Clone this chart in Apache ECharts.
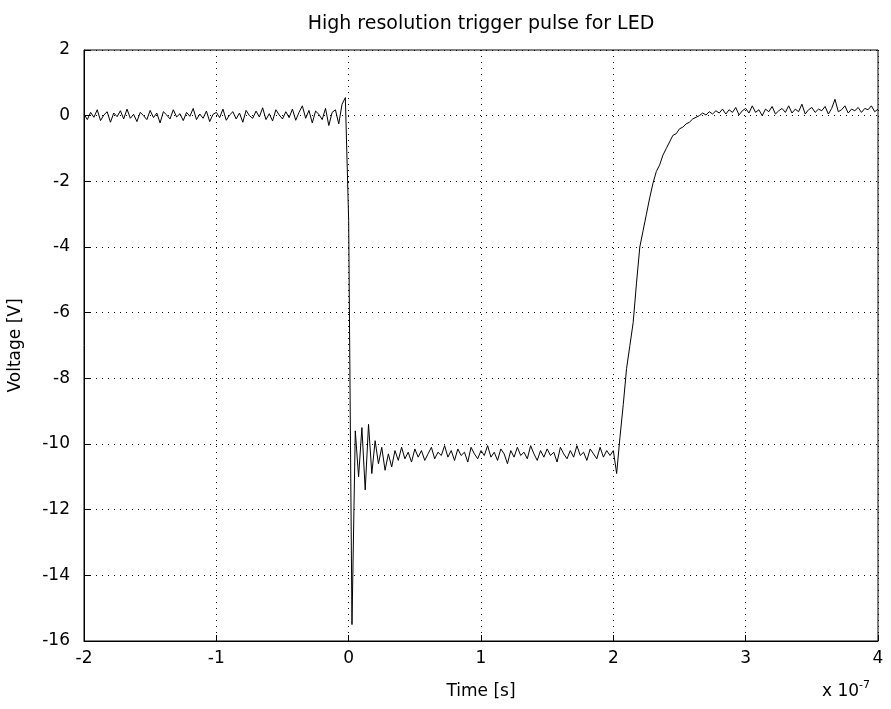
<!DOCTYPE html>
<html>
<head>
<meta charset="utf-8">
<script src="https://cdn.jsdelivr.net/npm/echarts@6/dist/echarts.min.js"></script>
<style>
html, body { margin: 0; padding: 0; background: #fff; }
#chart { width: 891px; height: 709px; }
</style>
</head>
<body>
<div id="chart"></div>
<script>
var chart = echarts.init(document.getElementById('chart'));

// scope trace, time in units of 1e-7 s, one sample every 0.025
var tStart = -2;
var tStep = 0.025;
var xTicks = [-2, -1, 0, 1, 2, 3, 4];
var yTicks = [2, 0, -2, -4, -6, -8, -10, -12, -14, -16];

// before the trigger (-2 .. -0.025)
var vBefore = [
    0.05,-0.12,0.10,-0.05,0.18,-0.15,0.02,0.12,-0.20,0.08,
    -0.03,0.15,-0.10,0.20,-0.08,0.04,-0.18,0.10,0.00,-0.12,
    0.16,-0.06,0.08,-0.22,0.12,0.02,-0.10,0.18,-0.04,0.06,
    -0.15,0.10,-0.02,0.22,-0.12,0.05,-0.08,0.14,-0.18,0.04,
    0.10,-0.06,0.20,-0.14,0.02,0.12,-0.10,0.08,-0.20,0.16,
    0.00,-0.08,0.14,-0.04,0.24,-0.12,0.06,-0.16,0.18,0.02,
    -0.10,0.12,-0.06,0.20,-0.14,0.10,0.30,-0.08,0.16,-0.22,
    0.14,0.04,-0.12,0.22,-0.30,0.10,0.18,-0.25,0.35,0.55
];
// the edge and ringing (0 .. 0.275)
var vEdge = [-3.2, -15.5, -9.6, -11.0, -9.5, -11.4, -9.4, -10.9, -9.9, -10.6, -10.1, -10.8];
// low level (0.3 .. 1.975)
var vLow = [
    -10.3,-10.7,-10.2,-10.5,-10.1,-10.45,-10.25,-10.55,-10.15,-10.4,
    -10.2,-10.5,-10.3,-10.1,-10.45,-10.25,-10.35,-10.05,-10.4,-10.2,
    -10.5,-10.15,-10.35,-10.25,-10.55,-10.1,-10.3,-10.45,-10.2,-10.35,
    -10.05,-10.4,-10.25,-10.5,-10.15,-10.3,-10.6,-10.2,-10.4,-10.1,
    -10.35,-10.25,-10.45,-10.05,-10.3,-10.5,-10.2,-10.4,-10.15,-10.35,
    -10.25,-10.55,-10.1,-10.3,-10.45,-10.2,-10.4,-10.05,-10.35,-10.25,
    -10.5,-10.15,-10.3,-10.45,-10.1,-10.4,-10.2,-10.35
];
// rising back (2.0 .. 2.8)
var vRise = [
    -10.2,-10.9,-9.8,-8.8,-7.7,-7.0,-6.3,-5.1,-4.0,-3.5,-3.0,
    -2.5,-2.05,-1.7,-1.5,-1.2,-1.0,-0.8,-0.6,-0.55,-0.4,
    -0.35,-0.25,-0.2,-0.1,-0.05,0.0,0.08,0.02,0.12,0.05,0.15,0.08
];
// high level again (2.825 .. 4)
var vAfter = [
    0.2,0.05,0.18,0.1,0.25,0.02,0.15,0.22,0.08,0.3,
    0.1,0.18,0.0,0.2,0.12,0.28,0.05,0.15,0.22,0.1,
    0.3,0.08,0.2,0.12,0.35,0.05,0.18,0.25,0.1,0.2,
    0.15,0.28,0.05,0.22,0.5,0.12,0.18,0.3,0.08,0.2,
    0.15,0.25,0.1,0.22,0.18,0.3,0.12,0.2
];

var volts = vBefore.concat(vEdge, vLow, vRise, vAfter);
var trace = volts.map(function (v, i) {
    return [+(tStart + i * tStep).toFixed(3), v];
});

var font = 'DejaVu Sans, sans-serif';

option = {
    animation: false,
    backgroundColor: '#fff',
    title: {
        text: 'High resolution trigger pulse for LED',
        left: 476,
        textAlign: 'center',
        top: 10,
        textStyle: { fontFamily: font, fontSize: 19, fontWeight: 'normal', color: '#000' }
    },
    grid: {
        left: 84, right: 13, top: 50, bottom: 68,
        outerBoundsMode: 'none',
        containLabel: false,
        show: true, borderColor: '#000', borderWidth: 1
    },
    xAxis: {
        type: 'value',
        min: xTicks[0], max: xTicks[xTicks.length - 1], interval: 1,
        name: 'Time [s]',
        nameLocation: 'middle',
        nameGap: 42,
        nameTextStyle: { fontFamily: font, fontSize: 17, color: '#000' },
        axisLine: { onZero: false, lineStyle: { color: '#000' } },
        axisTick: { inside: true, length: 6, lineStyle: { color: '#000' } },
        axisLabel: { fontFamily: font, fontSize: 17, color: '#000', margin: 9 },
        splitLine: { show: true, lineStyle: { color: '#000', type: [1, 5], width: 1 } }
    },
    yAxis: {
        type: 'value',
        min: yTicks[yTicks.length - 1], max: yTicks[0], interval: 2,
        name: 'Voltage [V]',
        nameLocation: 'middle',
        nameGap: 60,
        nameTextStyle: { fontFamily: font, fontSize: 17, color: '#000' },
        axisLine: { onZero: false, lineStyle: { color: '#000' } },
        axisTick: { inside: true, length: 6, lineStyle: { color: '#000' } },
        axisLabel: { fontFamily: font, fontSize: 17, color: '#000', margin: 14 },
        splitLine: { show: true, lineStyle: { color: '#000', type: [1, 5], width: 1 } }
    },
    graphic: [{
        type: 'text',
        left: 822,
        top: 680,
        style: {
            text: 'x 10{s|-7}',
            fontFamily: font, fontSize: 17, fill: '#000',
            rich: { s: { fontFamily: font, fontSize: 11, verticalAlign: 'top', padding: [0, 0, 12, 0] } }
        }
    }],
    series: [{
        type: 'line',
        data: trace,
        showSymbol: false,
        lineStyle: { color: '#000', width: 1 }
    }]
};

chart.setOption(option);
</script>
</body>
</html>
